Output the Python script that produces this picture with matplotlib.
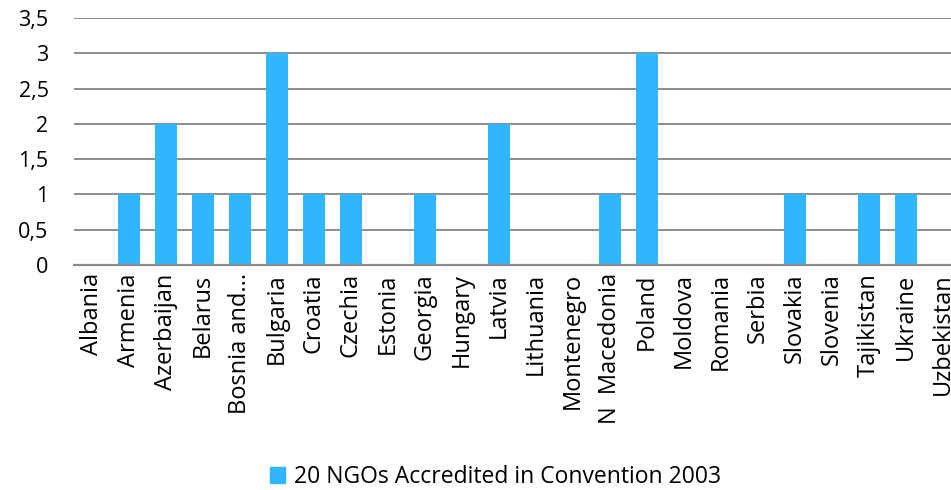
import matplotlib.pyplot as plt
from matplotlib.ticker import FuncFormatter, MultipleLocator
from matplotlib.patches import Patch

# NGOs accredited under the 2003 Convention, by country
countries = ["Albania", "Armenia", "Azerbaijan", "Belarus", "Bosnia and...",
             "Bulgaria", "Croatia", "Czechia", "Estonia", "Georgia", "Hungary",
             "Latvia", "Lithuania", "Montenegro", "N  Macedonia", "Poland",
             "Moldova", "Romania", "Serbia", "Slovakia", "Slovenia",
             "Tajikistan", "Ukraine", "Uzbekistan"]
ngos = [0, 1, 2, 1, 1, 3, 1, 1, 0, 1, 0, 2, 0, 0, 1, 3, 0, 0, 0, 1, 0, 1, 1, 0]
series_name = "20 NGOs Accredited in Convention 2003"

plt.rcParams['font.family'] = ['Open Sans', 'DejaVu Sans']
bar_col = '#31b6fd'
grid_col = '#8c8c8c'

fig = plt.figure(figsize=(9.51, 4.9), dpi=100)
# plot area runs a bit past the right edge, as in the original
ax = fig.add_axes([73.5 / 951, 1 - 265 / 490, 888 / 951, 247 / 490])

x = range(len(countries))
ax.bar(x, ngos, width=0.57, color=bar_col, zorder=3)

ax.set_xlim(-0.5, len(countries) - 0.5)
ax.set_ylim(0, 3.5)
ax.yaxis.set_major_locator(MultipleLocator(0.5))
ax.yaxis.set_major_formatter(FuncFormatter(lambda v, p: ('%g' % v).replace('.', ',')))
ax.grid(axis='y', color=grid_col, linewidth=1.4, zorder=0)

ax.set_xticks(list(x))
ax.set_xticklabels(countries, rotation=90, fontsize=17)
ax.tick_params(axis='x', length=0, pad=6)
ax.tick_params(axis='y', length=0, pad=18, labelsize=15.5)

for s in ['top', 'right', 'left']:
    ax.spines[s].set_visible(False)
ax.spines['bottom'].set_color(grid_col)
ax.spines['bottom'].set_linewidth(1.6)
ax.spines['bottom'].set_zorder(4)

handle = Patch(color=bar_col)
fig.legend([handle], [series_name], loc='center', bbox_to_anchor=(496 / 951, 1 - 477 / 490),
           frameon=False, fontsize=16.5, handlelength=0.65, handleheight=0.65, handletextpad=0.4)

fig.savefig("out.png", dpi=100)
